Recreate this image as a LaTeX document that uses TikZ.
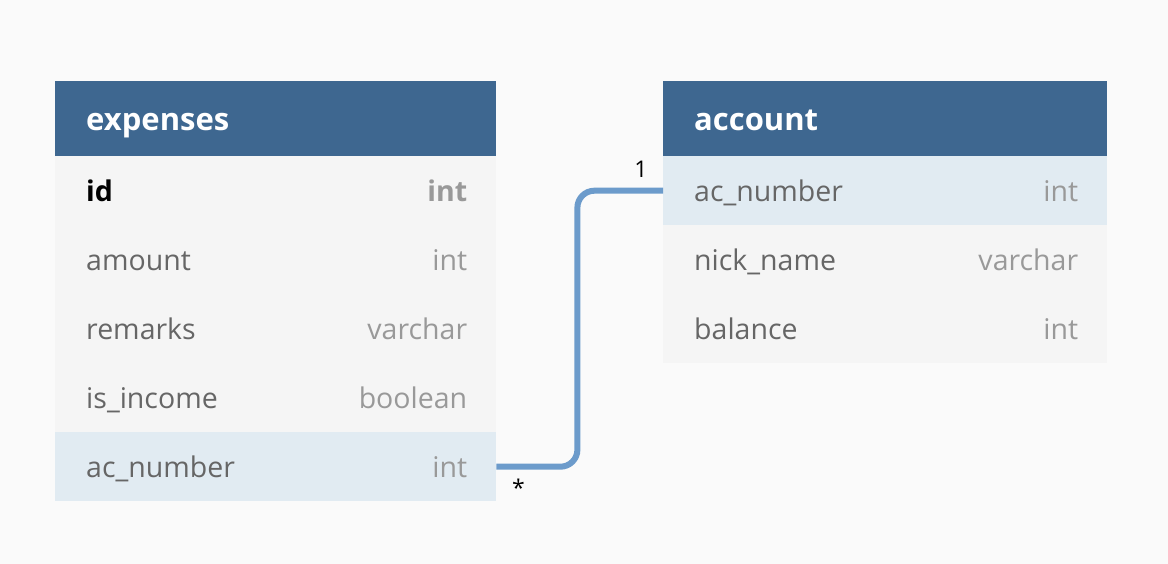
\documentclass[tikz,border=0pt]{standalone}
\usepackage{fontspec}
\setmainfont{Open Sans}
\usetikzlibrary{positioning}
\definecolor{pagebg}{HTML}{FAFAFA}
\definecolor{hdrblue}{HTML}{3E6790}
\definecolor{rowgray}{HTML}{F5F5F5}
\definecolor{keyblue}{HTML}{E1EBF2}
\definecolor{fieldgray}{HTML}{666666}
\definecolor{typegray}{HTML}{999999}
\definecolor{linkblue}{HTML}{6C9BCB}

\begin{document}
\begin{tikzpicture}[x=1pt, y=-1pt,
  headbox/.style={fill=hdrblue, minimum width=#1, minimum height=75pt, inner sep=0pt, anchor=north west},
  rowbox/.style={fill=rowgray, minimum width=#1, minimum height=69pt, inner sep=0pt, anchor=north west},
  headtext/.style={text=white, font=\fontsize{31}{36}\selectfont\bfseries, inner sep=0pt, anchor=base west},
  fieldtext/.style={text=fieldgray, font=\fontsize{28.5}{33}\selectfont, inner sep=0pt, anchor=base west},
  typetext/.style={text=typegray, font=\fontsize{28.5}{33}\selectfont, inner sep=0pt, anchor=base east},
  cardtext/.style={font=\fontsize{23}{27}\selectfont, inner sep=0pt},
  link/.style={draw=linkblue, line width=6pt, rounded corners=17pt}]
\fill[pagebg] (0,0) rectangle (1168,564);

% expenses table
\node[headbox=441] (exp) at (55,81) {};
\node[headtext] (exp-title) at ([xshift=31pt, yshift=-11.5pt]exp.west) {expenses};
\foreach \fname/\ftype/\fcol [count=\i] in {id/int/rowgray, amount/int/rowgray, remarks/varchar/rowgray, is\_income/boolean/rowgray, ac\_number/int/keyblue}
{
  \node[rowbox=441, fill=\fcol] (exp-\i) at (55,{156+69*(\i-1)}) {};
  \ifnum\i=1
    \node[fieldtext, text=black, font=\fontsize{28.5}{33}\selectfont\bfseries] (exp-\i-f) at ([xshift=31pt, yshift=-10.5pt]exp-\i.west) {\fname};
    \node[typetext, font=\fontsize{28.5}{33}\selectfont\bfseries] (exp-\i-t) at ([xshift=-29pt, yshift=-10.5pt]exp-\i.east) {\ftype};
  \else
    \node[fieldtext] (exp-\i-f) at ([xshift=31pt, yshift=-10.5pt]exp-\i.west) {\fname};
    \node[typetext] (exp-\i-t) at ([xshift=-29pt, yshift=-10.5pt]exp-\i.east) {\ftype};
  \fi
}

% account table
\node[headbox=444] (acc) at (663,81) {};
\node[headtext] (acc-title) at ([xshift=31pt, yshift=-11.5pt]acc.west) {account};
\foreach \fname/\ftype/\fcol [count=\i] in {ac\_number/int/keyblue, nick\_name/varchar/rowgray, balance/int/rowgray}
{
  \node[rowbox=444, fill=\fcol] (acc-\i) at (663,{156+69*(\i-1)}) {};
  \node[fieldtext] (acc-\i-f) at ([xshift=31pt, yshift=-10.5pt]acc-\i.west) {\fname};
  \node[typetext] (acc-\i-t) at ([xshift=-29pt, yshift=-10.5pt]acc-\i.east) {\ftype};
}

% relation
\draw[link] (exp-5.east) -- ++(81,0) |- (acc-1.west);
\node[cardtext] (many) at ([xshift=22pt, yshift=-21pt]exp-5.east) {*};
\node[cardtext] (one) at ([xshift=-22pt, yshift=21pt]acc-1.west) {1};
\end{tikzpicture}
\end{document}
